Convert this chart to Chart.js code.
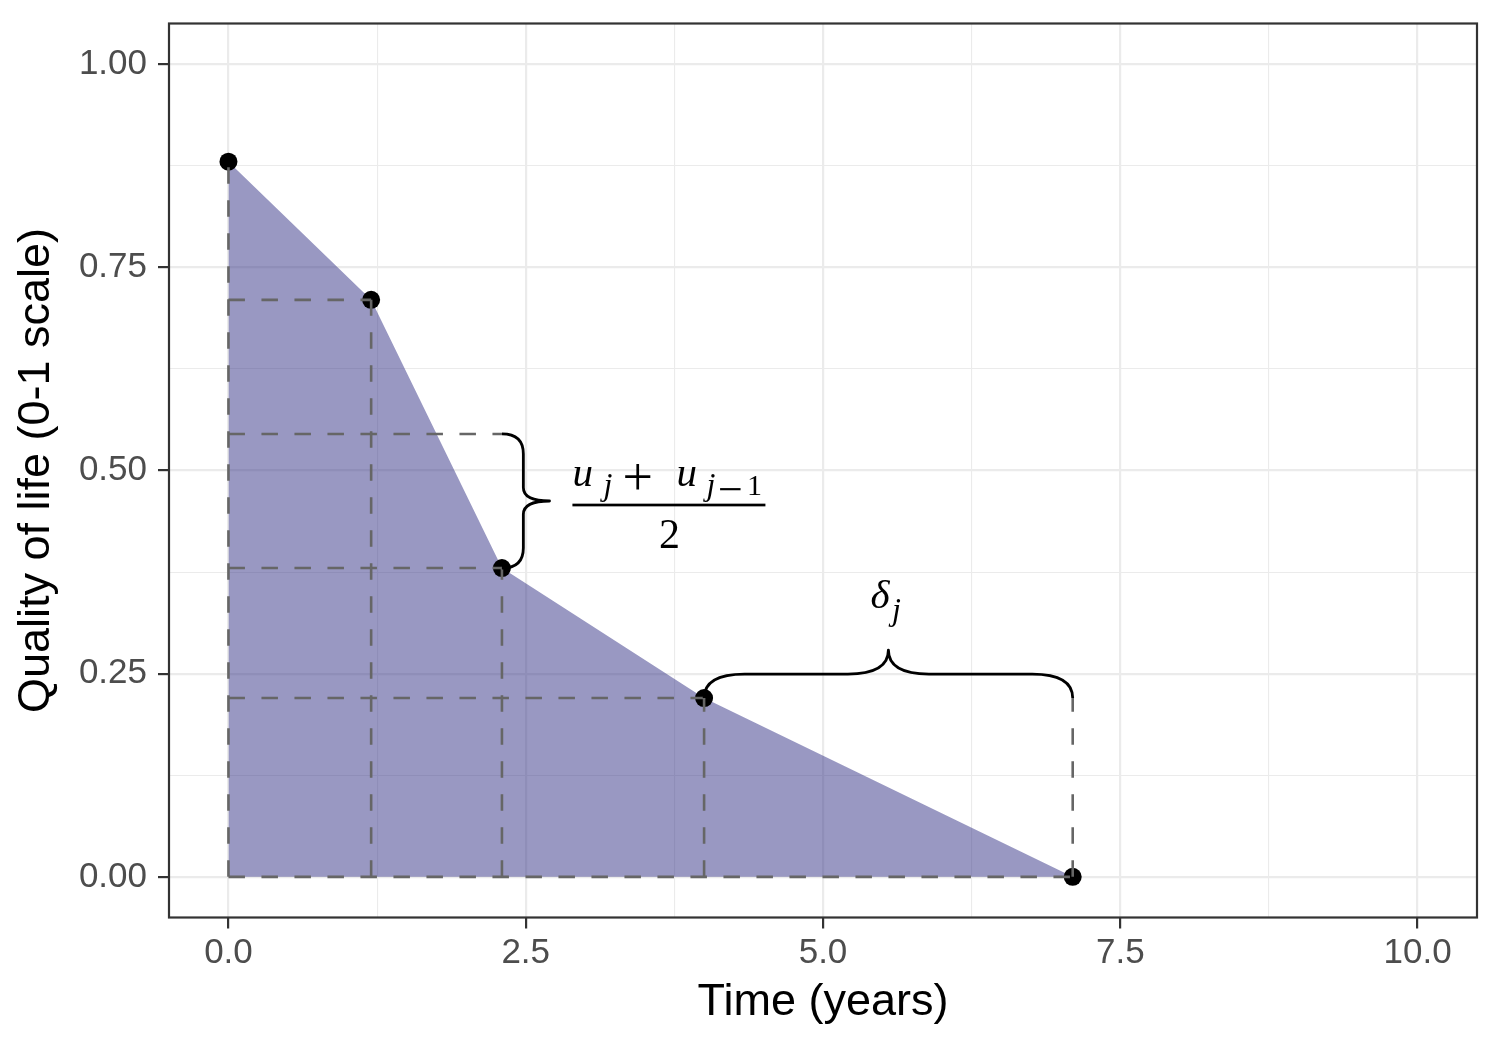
<!DOCTYPE html>
<html><head><meta charset="utf-8">
<script src="https://cdn.jsdelivr.net/npm/chart.js@4.4.1/dist/chart.umd.min.js"></script>
<style>html,body{margin:0;padding:0;background:#fff;} #wrap{width:1500px;height:1050px;}</style>
</head><body><div id="wrap"><canvas id="c" width="1500" height="1050"></canvas></div>
<script>
// ---- data ----
const times = [0, 1.2, 2.3, 4.0, 7.1];
const utilities = [0.88, 0.71, 0.38, 0.22, 0];
const xMajorTicks = [0, 2.5, 5, 7.5, 10];
const xMinorTicks = [1.25, 3.75, 6.25, 8.75];
const yMajorTicks = [0, 0.25, 0.5, 0.75, 1];
const yMinorTicks = [0.125, 0.375, 0.625, 0.875];
const xLimits = [-0.5, 10.5];
const yLimits = [-0.05, 1.05];
const xTitle = 'Time (years)';
const yTitle = 'Quality of life (0-1 scale)';

const meanHeight = (utilities[1] + utilities[2]) / 2;
const pts = times.map((t, i) => ({x: t, y: utilities[i]}));

// dashed guide segments, derived from the data
const segments = [];
for (let i = 0; i < 4; i++) segments.push([{x: times[i], y: 0}, {x: times[i], y: utilities[i]}]);
segments.push([{x: times[4], y: 0}, {x: times[4], y: utilities[3]}]);
for (let i = 1; i < 4; i++) segments.push([{x: 0, y: utilities[i]}, {x: times[i], y: utilities[i]}]);
segments.push([{x: 0, y: meanHeight}, {x: times[2], y: meanHeight}]);
segments.push([{x: 0, y: 0}, {x: times[4], y: 0}]);

const datasets = [
  {data: pts, fill: 'origin', backgroundColor: 'rgba(52,50,134,0.5)', borderWidth: 0,
   borderColor: 'rgba(0,0,0,0)', pointRadius: 0, order: 3, tension: 0},
  {data: pts, showLine: false, pointRadius: 9, pointBackgroundColor: '#000', pointBorderWidth: 0, order: 2}
];
segments.forEach(s => datasets.push({data: s, borderColor: '#666666', borderWidth: 2.6,
  borderDash: [16.5, 16.5], pointRadius: 0, fill: false, order: 1}));

const serif = '"Liberation Serif", "Times New Roman", serif';
function inkCenter(ctx, text, font, cx, cy) {
  ctx.font = font;
  ctx.textAlign = 'left'; ctx.textBaseline = 'alphabetic';
  const m = ctx.measureText(text);
  const w = m.actualBoundingBoxLeft + m.actualBoundingBoxRight;
  const x = cx - w / 2 + m.actualBoundingBoxLeft;
  const y = cy + (m.actualBoundingBoxAscent - m.actualBoundingBoxDescent) / 2;
  ctx.fillText(text, x, y);
}
function drawBrace(ctx, p0, p1, n, depth, mid, r1, r2) {
  const L = Math.hypot(p1.x - p0.x, p1.y - p0.y);
  const t = {x: (p1.x - p0.x) / L, y: (p1.y - p0.y) / L};
  const M = {x: (p0.x + p1.x) / 2, y: (p0.y + p1.y) / 2};
  const P = (b, a, c) => ({x: b.x + t.x * a + n.x * c, y: b.y + t.y * a + n.y * c});
  ctx.beginPath();
  let q = P(p0, 0, 0); ctx.moveTo(q.x, q.y);
  let c = P(p0, 0, mid), e = P(p0, r1, mid); ctx.quadraticCurveTo(c.x, c.y, e.x, e.y);
  e = P(M, -r2, mid); ctx.lineTo(e.x, e.y);
  c = P(M, 0, mid); e = P(M, 0, depth); ctx.quadraticCurveTo(c.x, c.y, e.x, e.y);
  e = P(M, r2, mid); ctx.quadraticCurveTo(c.x, c.y, e.x, e.y);
  e = P(p1, -r1, mid); ctx.lineTo(e.x, e.y);
  c = P(p1, 0, mid); e = P(p1, 0, 0); ctx.quadraticCurveTo(c.x, c.y, e.x, e.y);
  ctx.stroke();
}

const annotations = {
  id: 'annotations',
  afterDatasetsDraw(chart) {
    const ctx = chart.ctx, xs = chart.scales.x, ys = chart.scales.y;
    const px = v => xs.getPixelForValue(v), py = v => ys.getPixelForValue(v);
    ctx.save();
    ctx.strokeStyle = '#000'; ctx.lineWidth = 2.8; ctx.lineCap = 'butt'; ctx.lineJoin = 'round';
    // vertical brace between mean height and u_j at t_j
    const a0 = {x: px(times[2]), y: py(meanHeight)}, a1 = {x: px(times[2]), y: py(utilities[2])};
    const L1 = a1.y - a0.y;
    const d1 = px(times[2] + 0.4) - px(times[2]);
    drawBrace(ctx, a0, a1, {x: 1, y: 0}, d1, d1 * 0.45, L1 * 0.15, L1 * 0.1);
    // horizontal brace from t_j to t_{j+1}
    const b0 = {x: px(times[3]), y: py(utilities[3])}, b1 = {x: px(times[4]), y: py(utilities[3])};
    const L2 = b1.x - b0.x;
    const d2 = py(utilities[3]) - py(utilities[3] + 0.059);
    drawBrace(ctx, b0, b1, {x: 0, y: -1}, d2, d2 * 0.5, L2 * 0.11, L2 * 0.11);

    // fraction label
    ctx.fillStyle = '#000';
    const cx = px(3.7), cy = py(0.4576);
    const it = s => 'italic ' + s + 'px ' + serif, up = s => s + 'px ' + serif;
    inkCenter(ctx, 'u', it(41), cx - 85, cy - 28.5);
    inkCenter(ctx, 'j', it(32), cx - 62.5, cy - 16.5);
    inkCenter(ctx, '+', up(54), cx - 31, cy - 27.5);
    inkCenter(ctx, 'u', it(41), cx + 19, cy - 28.5);
    inkCenter(ctx, 'j', it(32), cx + 40.5, cy - 16.5);
    inkCenter(ctx, '\u2212', up(44), cx + 62, cy - 15);
    inkCenter(ctx, '1', up(30), cx + 86.5, cy - 19.7);
    ctx.fillRect(cx - 96, cy - 1.3, 193, 2.7);
    inkCenter(ctx, '2', up(42), cx + 0.5, cy + 29);
    // delta label
    const dx = px((times[3] + times[4]) / 2), dy = py(utilities[3]) - d2;
    inkCenter(ctx, '\u03B4', it(41), dx - 7.5, dy - 56.5);
    inkCenter(ctx, 'j', it(32), dx + 6, dy - 37);
    ctx.restore();
  },
  afterDraw(chart) {
    const ctx = chart.ctx, a = chart.chartArea;
    ctx.save();
    ctx.strokeStyle = '#333333'; ctx.lineWidth = 2.2;
    ctx.strokeRect(a.left, a.top, a.right - a.left, a.bottom - a.top);
    ctx.restore();
  }
};

const sans = '"Liberation Sans", Arial, sans-serif';
function axis(major, minor, lim, digits, extra) {
  return Object.assign({
    type: 'linear', min: lim[0], max: lim[1],
    afterBuildTicks: s => { s.ticks = major.concat(minor).sort((a, b) => a - b).map(v => ({value: v})); },
    ticks: {
      callback: v => major.includes(v) ? v.toFixed(digits) : '',
      font: {family: sans, size: 35}, color: '#4d4d4d', autoSkip: false, maxRotation: 0
    },
    grid: {
      color: '#ebebeb',
      lineWidth: c => (c.tick && major.includes(c.tick.value)) ? 2.2 : 1.1,
      tickColor: c => (c.tick && major.includes(c.tick.value)) ? '#333333' : 'rgba(0,0,0,0)',
      tickLength: 11, tickWidth: 2.2, drawTicks: true
    },
    border: {display: false}
  }, extra);
}
const xAxis = axis(xMajorTicks, xMinorTicks, xLimits, 1, {
  title: {display: true, text: xTitle, color: '#000', font: {family: sans, size: 45}, padding: {top: 0, bottom: 20.6}},
  afterFit: s => { s.height = 132.5; s.paddingLeft = 0; s.paddingRight = 0; }
});
xAxis.ticks.padding = 4;
const yAxis = axis(yMajorTicks, yMinorTicks, yLimits, 2, {
  title: {display: true, text: yTitle, color: '#000', font: {family: sans, size: 45}, padding: {top: 9.4, bottom: 0}},
  afterFit: s => { s.width = 169; s.paddingTop = 0; s.paddingBottom = 0; }
});
yAxis.ticks.padding = 11;

new Chart(document.getElementById('c'), {
  type: 'line',
  data: {datasets},
  options: {
    responsive: false, animation: false,
    layout: {padding: {left: 0, top: 23.5, right: 23, bottom: 0}},
    plugins: {legend: {display: false}, tooltip: {enabled: false}},
    scales: {x: xAxis, y: yAxis}
  },
  plugins: [annotations]
});
</script>
</body></html>
